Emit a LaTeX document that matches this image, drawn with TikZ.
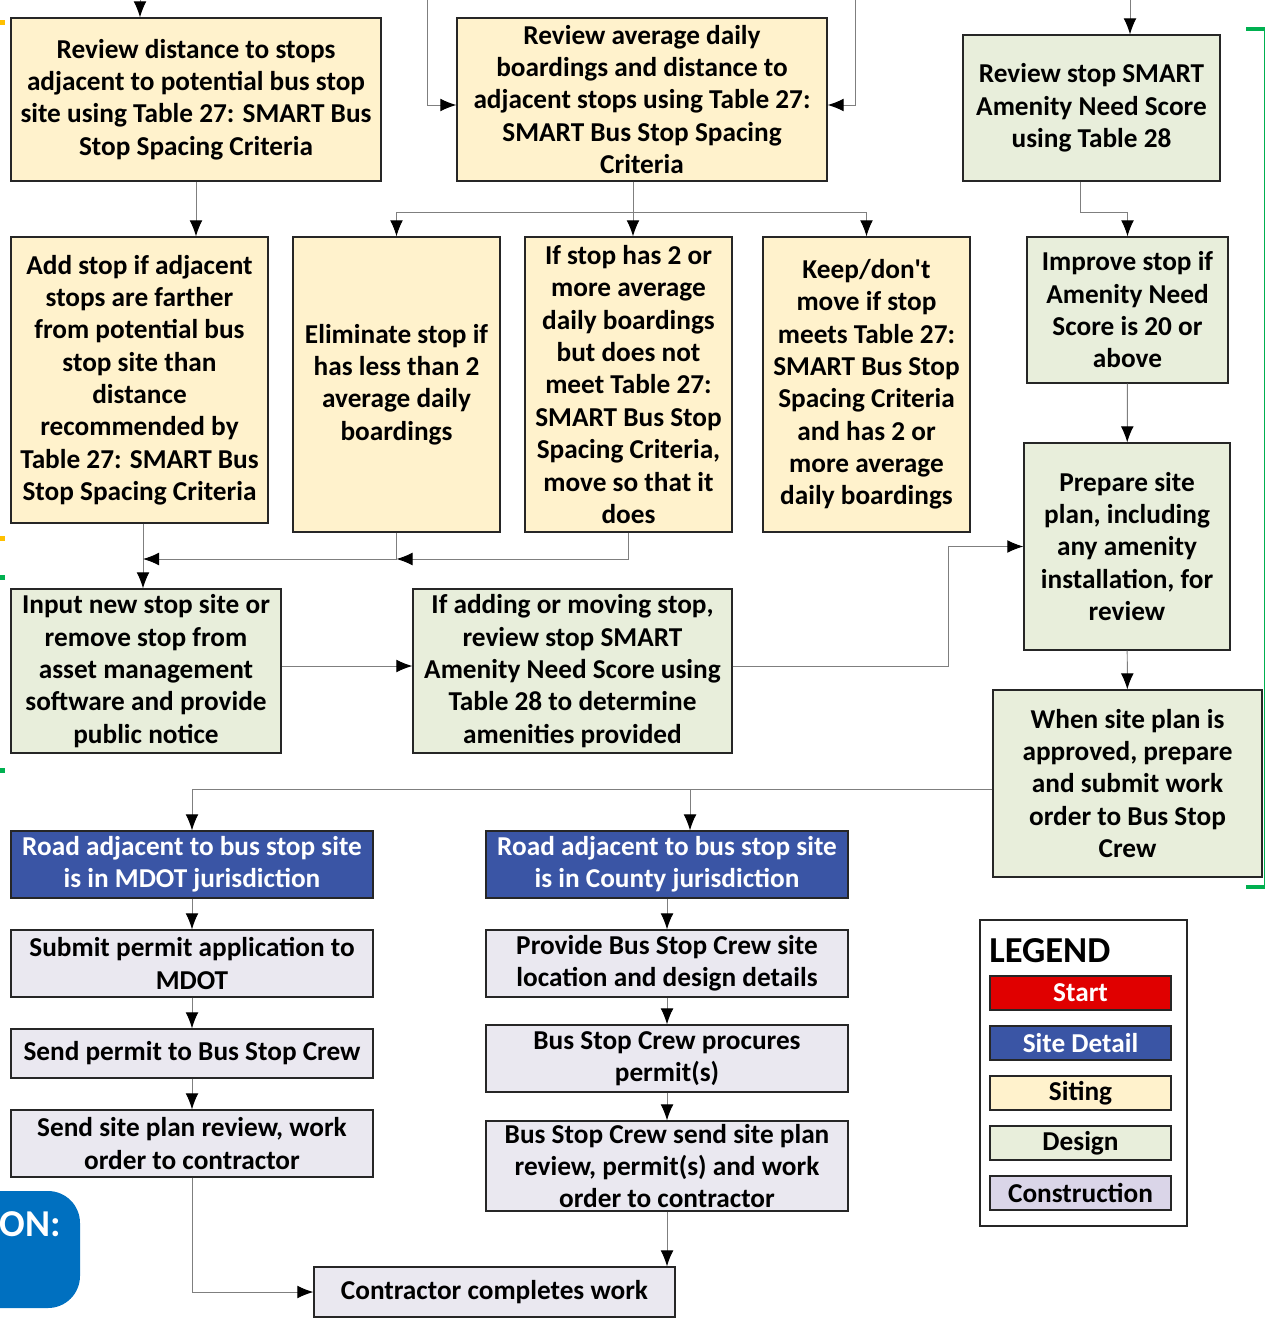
\documentclass[tikz,border=0pt]{standalone}
\usepackage{fontspec}
\setmainfont{Carlito}
\usetikzlibrary{arrows.meta, positioning}
\definecolor{sitingyellow}{HTML}{FFF2CC}
\definecolor{designgreen}{HTML}{E8EEDB}
\definecolor{buildgray}{HTML}{EAE8F0}
\definecolor{buildlegend}{HTML}{DAD5E8}
\definecolor{detailblue}{HTML}{3A55A5}
\definecolor{startred}{HTML}{E00000}
\definecolor{boxline}{HTML}{262626}
\definecolor{wiregray}{HTML}{7F7F7F}
\definecolor{tabblue}{HTML}{0070C0}
\definecolor{markyellow}{HTML}{FFC000}
\definecolor{markgreen}{HTML}{00B050}
\newcommand{\flowfont}{\fontsize{19.4}{23}\selectfont\bfseries}

\begin{document}
\begin{tikzpicture}[x=0.025cm, y=-0.025cm,
  box/.style={rectangle, draw=boxline, line width=0.9pt, inner sep=0pt, align=center, font=\flowfont},
  siting/.style={box, fill=sitingyellow},
  design/.style={box, fill=designgreen},
  detail/.style={box, fill=detailblue, text=white},
  build/.style={box, fill=buildgray},
  arr/.style={draw=wiregray, line width=0.7pt, -{Latex[length=0.4cm, width=0.32cm, black]}},
  wire/.style={draw=wiregray, line width=0.7pt}]
\useasboundingbox (0,0) rectangle (1266,1322);
\clip (0,0) rectangle (1266,1322);

% Edge marks from the page around it
\fill[markyellow] (0,20) rectangle (5,25);
\fill[markyellow] (0,536) rectangle (5,541);
\fill[markgreen] (0,575) rectangle (5,580);
\fill[markgreen] (0,768) rectangle (5,773);
\draw[markgreen, line width=0.6pt] (1264,29) -- (1264,887);
\draw[markgreen, line width=2.5pt] (1246,29) -- (1265,29);
\draw[markgreen, line width=2.5pt] (1246,887) -- (1265,887);
\fill[tabblue, rounded corners=0.8cm] (-60,1191) rectangle (80,1308);
\node[font=\fontsize{27}{30}\selectfont\bfseries, text=white, anchor=east, inner sep=0pt] (tabtext) at (61,1224) {ON:};

% Siting steps
\node[siting, minimum width=9.25cm, minimum height=4.075cm] (rvdist) at (196,99.5) {Review distance to stops\\adjacent to potential bus stop\\site using Table 27: SMART Bus\\Stop Spacing Criteria};
\node[siting, minimum width=9.25cm, minimum height=4.075cm] (rvavg) at (642,99.5) {Review average daily\\boardings and distance to\\adjacent stops using Table 27:\\SMART Bus Stop Spacing\\Criteria};
\node[siting, minimum width=6.425cm, minimum height=7.15cm] (addstop) at (139.5,380) {Add stop if adjacent\\stops are farther\\from potential bus\\stop site than\\distance\\recommended by\\Table 27: SMART Bus\\Stop Spacing Criteria};
\node[siting, minimum width=5.175cm, minimum height=7.375cm] (elim) at (396.5,384.5) {Eliminate stop if\\has less than 2\\average daily\\boardings};
\node[siting, minimum width=5.175cm, minimum height=7.375cm] (movestop) at (628.5,384.5) {If stop has 2 or\\more average\\daily boardings\\but does not\\meet Table 27:\\SMART Bus Stop\\Spacing Criteria,\\move so that it\\does};
\node[siting, minimum width=5.175cm, minimum height=7.375cm] (keep) at (866.5,384.5) {Keep/don\textquotesingle t\\move if stop\\meets Table 27:\\SMART Bus Stop\\Spacing Criteria\\and has 2 or\\more average\\daily boardings};

% Design steps
\node[design, minimum width=6.425cm, minimum height=3.65cm] (rvscore) at (1091.5,108) {Review stop SMART\\Amenity Need Score\\using Table 28};
\node[design, minimum width=5.025cm, minimum height=3.65cm] (improve) at (1127.5,310) {Improve stop if\\Amenity Need\\Score is 20 or\\above};
\node[design, minimum width=5.15cm, minimum height=5.175cm] (siteplan) at (1127,546.5) {Prepare site\\plan, including\\any amenity\\installation, for\\review};
\node[design, minimum width=6.725cm, minimum height=4.675cm] (approve) at (1127.5,783.5) {When site plan is\\approved, prepare\\and submit work\\order to Bus Stop\\Crew};
\node[design, minimum width=6.75cm, minimum height=4.1cm] (inputstop) at (146,671) {Input new stop site or\\remove stop from\\asset management\\software and provide\\public notice};
\node[design, minimum width=7.975cm, minimum height=4.1cm] (amenity) at (572.5,671) {If adding or moving stop,\\review stop SMART\\Amenity Need Score using\\Table 28 to determine\\amenities provided};

% Site detail
\node[detail, minimum width=9.05cm, minimum height=1.675cm] (mdot) at (192,864.5) {Road adjacent to bus stop site\\is in MDOT jurisdiction};
\node[detail, minimum width=9.05cm, minimum height=1.675cm] (county) at (667,864.5) {Road adjacent to bus stop site\\is in County jurisdiction};

% Construction steps
\node[build, minimum width=9.05cm, minimum height=1.675cm] (permit) at (192,963.5) {Submit permit application to\\MDOT};
\node[build, minimum width=9.05cm, minimum height=1.225cm] (sendpermit) at (192,1053.5) {Send permit to Bus Stop Crew};
\node[build, minimum width=9.05cm, minimum height=1.675cm] (sendplan) at (192,1143.5) {Send site plan review, work\\order to contractor};
\node[build, minimum width=9.05cm, minimum height=1.675cm] (provide) at (667,963.5) {Provide Bus Stop Crew site\\location and design details};
\node[build, minimum width=9.05cm, minimum height=1.675cm] (procure) at (667,1058.5) {Bus Stop Crew procures\\permit(s)};
\node[build, minimum width=9.05cm, minimum height=2.25cm] (crewsend) at (667,1166) {Bus Stop Crew send site plan\\review, permit(s) and work\\order to contractor};
\node[build, minimum width=9.025cm, minimum height=1.25cm] (contractor) at (494.5,1292) {Contractor completes work};

% Legend
\node[rectangle, draw=boxline, line width=0.9pt, fill=white, minimum width=5.175cm, minimum height=7.65cm] (legendbox) at (1083.5,1073) {};
\node[font=\fontsize{26}{30}\selectfont\bfseries, anchor=west, inner sep=0pt] (legendtitle) at (989,951) {LEGEND};
\node[box, fill=startred, text=white, minimum width=4.525cm, minimum height=0.85cm] (keystart) at (1080.5,993) {Start};
\node[detail, minimum width=4.525cm, minimum height=0.85cm] (keydetail) at (1080.5,1043) {Site Detail};
\node[siting, minimum width=4.525cm, minimum height=0.85cm] (keysiting) at (1080.5,1093) {Siting};
\node[design, minimum width=4.525cm, minimum height=0.85cm] (keydesign) at (1080.5,1143) {Design};
\node[box, fill=buildlegend, minimum width=4.525cm, minimum height=0.85cm] (keybuild) at (1080.5,1193) {Construction};

% Free ends and bends
\coordinate (in1) at (140,0);
\coordinate (in2) at (427,0);
\coordinate (in3) at (855,0);
\coordinate (in4) at (1130,0);
\coordinate (sidebend) at (427,105);
\coordinate (split) at (633,212);
\coordinate (scorebend) at (1080,212);
\coordinate (join) at (143,559);
\coordinate (amenbend) at (948,666);
\coordinate (crewsplit) at (690,789);

% Draw connections
\draw[arr] (in1) -- (in1 |- rvdist.north);
\draw[arr] (in2) -- (sidebend) -- (sidebend -| rvavg.west);
\draw[arr] (in3) |- (sidebend -| rvavg.east);
\draw[arr] (in4) -- (in4 |- rvscore.north);
\draw[arr] (rvdist.south) -- (rvdist.south |- addstop.north);
\draw[wire] (rvavg.south -| split) -- (split);
\draw[arr] (split) -| (elim.north);
\draw[arr] (split) -- (split |- movestop.north);
\draw[arr] (split) -| (keep.north);
\draw[arr] (rvscore.south -| scorebend) -- (scorebend) -| (improve.north);
\draw[arr] (improve) -- (siteplan);
\draw[arr] (siteplan) -- (approve);
\draw[arr] (addstop.south -| join) -- (inputstop.north -| join);
\draw[arr] (elim.south) |- (join);
\draw[arr] (movestop.south) |- (elim.south |- join);
\draw[arr] (inputstop.east |- amenbend) -- (amenity.west |- amenbend);
\draw[arr] (amenity.east |- amenbend) -- (amenbend) |- (siteplan.west);
\draw[arr] (approve.west |- crewsplit) -| (mdot.north);
\draw[arr] (crewsplit) -- (crewsplit |- county.north);
\draw[arr] (mdot) -- (permit);
\draw[arr] (permit) -- (sendpermit);
\draw[arr] (sendpermit) -- (sendplan);
\draw[arr] (sendplan.south) |- (contractor.west);
\draw[arr] (county) -- (provide);
\draw[arr] (provide) -- (procure);
\draw[arr] (procure) -- (crewsend);
\draw[arr] (crewsend.south) -- (crewsend.south |- contractor.north);
\end{tikzpicture}
\end{document}
